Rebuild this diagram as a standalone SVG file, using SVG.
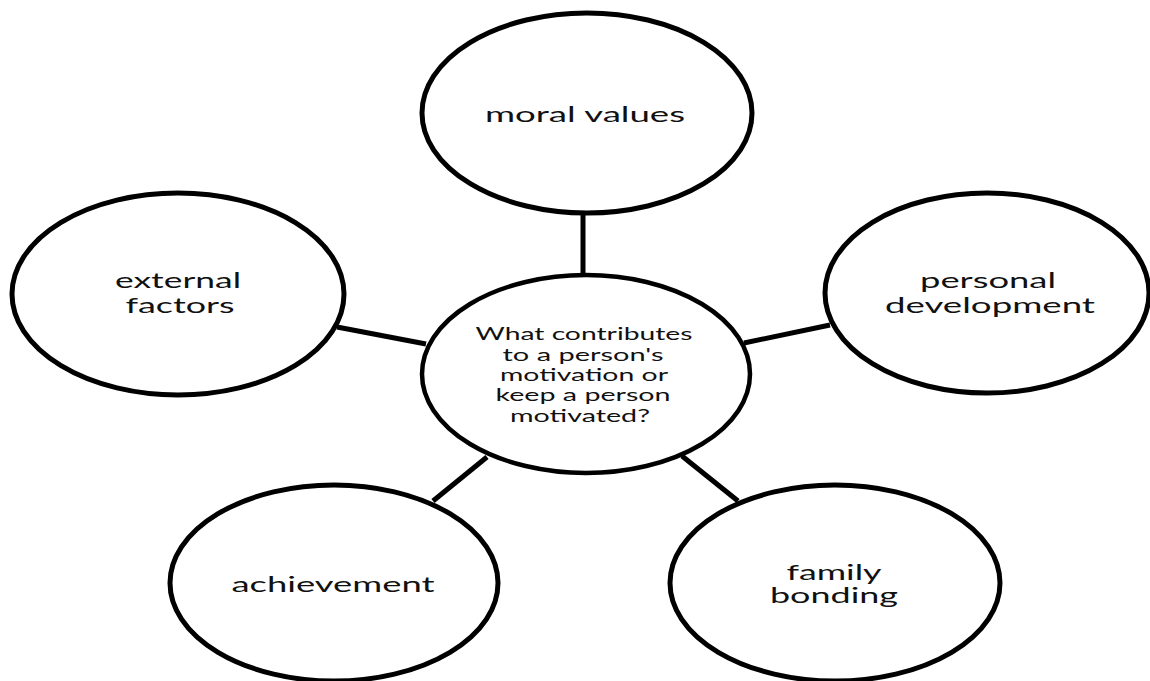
<svg xmlns="http://www.w3.org/2000/svg" width="1150" height="681" viewBox="0 0 1150 681">
<style>
.node{fill:#fff;stroke:#000;stroke-width:5}
.lbl{font-family:Lato,"Open Sans","Liberation Sans",sans-serif;font-size:21px;fill:#111;text-anchor:middle}
.clbl{font-family:Lato,"Open Sans","Liberation Sans",sans-serif;font-size:17px;fill:#111;text-anchor:middle}
.conn line{stroke:#000;stroke-width:5}
</style>
<rect width="1150" height="681" fill="#fff"/>
<g id="connectors" class="conn">
<line x1="583" y1="212" x2="583" y2="276"/>
<line x1="337" y1="327" x2="426" y2="344"/>
<line x1="744" y1="343" x2="830" y2="325"/>
<line x1="433" y1="501" x2="487" y2="457"/>
<line x1="682" y1="456" x2="738" y2="501"/>
</g>
<g id="moral-values">
<ellipse class="node" cx="587" cy="113" rx="165" ry="100"/>
<text class="lbl" x="585" y="122" textLength="200" lengthAdjust="spacingAndGlyphs">moral values</text>
</g>
<g id="external-factors">
<ellipse class="node" cx="178" cy="294" rx="166" ry="101"/>
<text class="lbl" x="178" y="288" textLength="126" lengthAdjust="spacingAndGlyphs">external</text>
<text class="lbl" x="180" y="313" textLength="109" lengthAdjust="spacingAndGlyphs">factors</text>
</g>
<g id="personal-development">
<ellipse class="node" cx="987" cy="293" rx="162" ry="100"/>
<text class="lbl" x="988" y="288" textLength="136" lengthAdjust="spacingAndGlyphs">personal</text>
<text class="lbl" x="990" y="313" textLength="210" lengthAdjust="spacingAndGlyphs">development</text>
</g>
<g id="achievement">
<ellipse class="node" cx="334" cy="583" rx="164" ry="98"/>
<text class="lbl" x="333" y="592" textLength="203" lengthAdjust="spacingAndGlyphs">achievement</text>
</g>
<g id="family-bonding">
<ellipse class="node" cx="835" cy="583" rx="165" ry="98"/>
<text class="lbl" x="834" y="580" textLength="95" lengthAdjust="spacingAndGlyphs">family</text>
<text class="lbl" x="834" y="603" textLength="128" lengthAdjust="spacingAndGlyphs">bonding</text>
</g>
<g id="center">
<ellipse class="node" cx="586" cy="374" rx="164" ry="99" style="stroke-width:4.5"/>
<text class="clbl" x="584" y="340" textLength="217" lengthAdjust="spacingAndGlyphs">What contributes</text>
<text class="clbl" x="583" y="361" textLength="161" lengthAdjust="spacingAndGlyphs">to a person's</text>
<text class="clbl" x="584" y="381" textLength="168" lengthAdjust="spacingAndGlyphs">motivation or</text>
<text class="clbl" x="583" y="401" textLength="175" lengthAdjust="spacingAndGlyphs">keep a person</text>
<text class="clbl" x="580" y="422" textLength="140" lengthAdjust="spacingAndGlyphs">motivated?</text>
</g>
</svg>
